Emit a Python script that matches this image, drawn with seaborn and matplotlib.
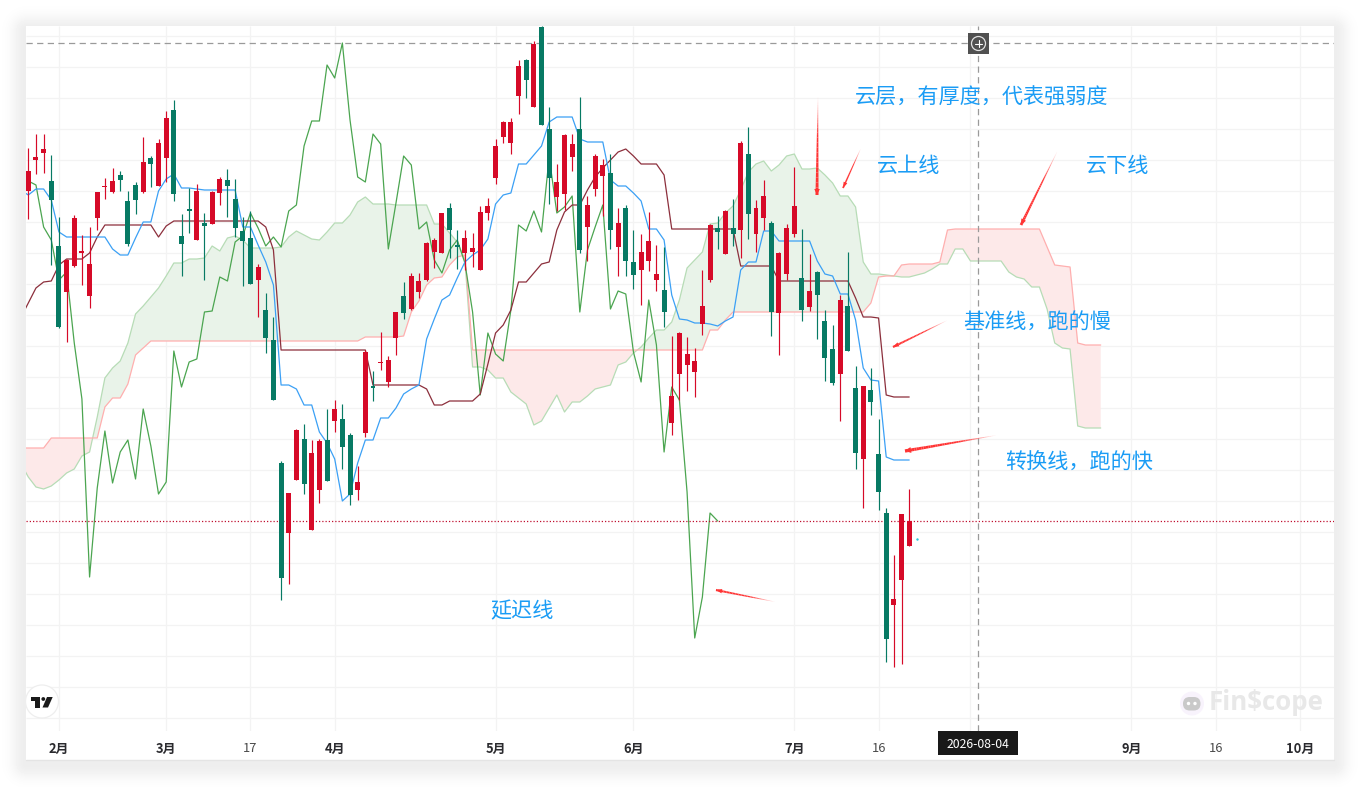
import numpy as np
import pandas as pd
import matplotlib
matplotlib.use("Agg")
import matplotlib.pyplot as plt
from matplotlib.patches import Rectangle, Circle, Polygon, FancyBboxPatch
from matplotlib.collections import LineCollection
import seaborn as sns

# ---------- data (vertical values are read as chart rows, smaller = higher price) ----------
wick_top = [148,134,134,155,217,259,215,235,227,192,178,168,171,191,182,137,156,139,111,100,
            214,188,184,213,191,177,169,179,217,211,264,293,317,461,493,429,424,440,439,409,
            400,404,433,466,350,371,332,356,312,282,273,273,242,238,213,203,230,230,233,206,
            198,139,121,118,60,59,41,26,107,164,134,134,97,196,154,159,154,208,205,230,
            234,212,245,247,336,332,337,348,270,224,216,210,199,141,127,200,180,221,252,224,
            167,229,254,271,310,325,295,252,366,386,368,419,508,555,514,489]
body_top = [171,157,149,181,246,260,218,251,264,192,186,181,175,201,185,162,158,143,118,110,
            236,209,191,223,192,179,180,199,231,238,267,310,340,463,493,430,439,453,441,440,
            409,419,435,482,352,386,362,360,312,296,276,281,243,240,213,208,245,238,248,212,
            206,146,122,122,66,60,44,27,129,182,135,144,129,205,156,165,173,223,208,262,
            252,241,274,290,396,333,354,361,306,225,228,211,228,143,154,208,196,223,253,228,
            206,278,291,272,321,349,300,306,388,386,390,454,513,599,514,521]
body_bot = [191,160,153,200,327,292,266,253,296,218,187,192,180,244,200,192,164,186,158,194,
            244,211,240,226,224,193,186,228,241,284,280,338,400,578,533,480,484,530,490,481,
            421,447,495,490,433,388,363,382,338,313,309,292,280,252,253,230,247,253,252,270,
            213,178,137,143,96,80,107,125,178,197,194,157,250,227,189,176,230,247,261,275,
            270,261,280,312,423,374,365,372,324,280,232,254,234,230,214,234,218,312,313,274,
            234,310,307,295,358,383,374,351,453,459,402,492,639,605,580,546]
wick_bot = [219,174,173,265,328,342,267,285,308,230,199,193,191,246,214,193,187,186,182,201,
            276,233,240,280,224,205,217,237,286,284,317,353,400,600,584,480,494,530,503,481,
            432,469,505,500,437,401,370,387,355,319,310,298,281,268,253,258,269,270,267,270,
            220,184,143,154,114,98,107,125,204,211,210,171,253,261,196,216,249,276,276,289,
            305,271,291,327,435,400,391,397,335,282,249,254,246,258,239,252,230,336,355,280,
            237,321,311,339,381,385,421,351,469,508,415,510,662,667,664,546]
direction = list("RRRGGRRRRR" "RRGGGRGRRG" "GGRGRRGGGG" "RGGGRRGRRG" "RGGRRGRRRG" "RRRRRGGRRR"
                 "RRRRRGRGGR" "RRGRRRGRGG" "RRRGRRRRRR" "GRGRGRRGRR" "RGRGGGRGGR" "GGGRRR")

# these series start one bar before the first visible candle (bar -1)
conversion = [190,
              195,189,189,200,232,237,237,237,237,237,237,249,255,255,238,222,222,191,179,174,
              188,188,189,190,190,190,190,190,227,227,245,262,285,385,385,389,405,405,432,443,
              459,501,494,463,440,440,418,418,408,394,389,385,339,319,300,295,278,262,255,250,
              239,204,195,193,164,164,155,146,122,117,117,117,139,142,142,142,180,186,186,193,
              201,229,229,240,295,319,320,323,323,324,326,321,317,270,262,262,231,231,241,241,
              241,241,241,261,274,276,294,294,320,368,380,381,457,460,460,460]
base_line = [318,
             303,288,282,281,265,259,259,259,253,237,225,225,225,225,225,225,225,237,226,221,
             221,221,221,221,221,221,221,221,221,221,221,227,250,350,350,350,350,350,350,350,
             350,350,350,350,350,385,385,385,385,385,385,385,389,405,405,401,401,401,401,394,
             364,333,325,310,282,282,273,264,262,230,212,205,205,190,177,168,160,152,149,156,
             164,164,164,175,229,229,229,229,229,229,229,229,229,266,266,266,266,266,281,281,
             281,281,281,281,281,281,281,281,298,317,317,318,395,397,397,397]
lagging = [181,185,227,240,280,272,343,399,577,488,431,483,452,440,479,409,446,494,482,351,
           387,362,359,312,311,277,281,242,236,213,228,246,237,247,211,205,146,121,121,65,
           78,43,120,177,182,134,144,249,203,156,165,229,222,260,273,250,240,263,312,395,
           333,354,361,310,225,231,211,232,157,213,207,196,312,250,227,205,309,291,294,352,
           382,300,345,452,387,400,492,638,597,513,521]
span_a = [463,
          477,487,489,486,480,473,469,456,452,417,378,368,361,343,314,306,297,288,276,263,
          263,259,259,258,246,251,238,236,240,248,248,248,248,247,237,231,235,239,240,232,
          223,223,215,202,197,204,204,204,205,205,205,205,205,224,224,233,242,260,367,367,
          370,378,378,392,398,404,425,421,408,395,412,402,402,396,389,387,385,365,362,353,
          347,338,330,330,322,300,268,260,252,224,223,213,206,190,172,164,161,171,165,156,
          154,169,169,168,175,183,196,196,207,262,274,274,275,276,277,277,275,273,269,264,
          264,249,249,261,261,261,261,261,272,277,279,287,287,309,343,348,349,426,428,428,428]
span_b = [448,
          448,448,448,438,438,438,438,438,438,438,407,398,398,384,355,348,341,341,341,341,
          341,341,341,341,341,341,341,341,341,341,341,341,341,341,341,341,341,341,341,341,
          341,341,341,341,337,337,337,337,337,336,312,301,285,278,277,265,257,255,350,350,
          350,350,350,350,350,350,350,350,350,350,350,350,350,350,350,350,350,350,350,350,
          350,350,350,350,350,350,350,350,350,330,330,320,312,312,312,312,312,312,312,312,
          312,312,312,312,312,312,312,312,312,312,303,277,276,276,265,264,264,264,264,262,
          230,229,229,229,229,229,229,229,229,229,229,229,229,247,265,266,267,343,345,345,345]
last_dot = [539]
last_price = [521]
cross_price = [43.5]
cross_bar = [124]
tick_bars = [4,18,29,40,61,79,100,111,123,144,155,166]
tick_labels = ["2月","3月","17","4月","5月","6月","7月","16","","9月","16","10月"]
grid_rows = [35.7,66.7,97.7,128.7,159.7,190.7,221.7,252.7,283.7,314.7,345.7,376.7,407.7,438.7,
             469.7,500.7,531.7,562.7,593.7,624.7,655.7,686.7,717.7]

# ---------- frames ----------
candles = pd.DataFrame({"bar": np.arange(len(wick_top)), "wt": wick_top, "bt": body_top,
                        "bb": body_bot, "wb": wick_bot, "dir": direction})
lines = pd.DataFrame({"bar": np.arange(len(conversion)) - 1, "conversion": conversion, "base": base_line})
lag = pd.DataFrame({"bar": np.arange(len(lagging)), "lag": lagging})
cloud = pd.DataFrame({"bar": np.arange(len(span_a)) - 1, "a": span_a, "b": span_b})

sns.set_theme(style="white")
plt.rcParams["font.family"] = ["Noto Sans CJK SC", "DejaVu Sans"]

W, H = 1360, 787
fig = plt.figure(figsize=(W/100, H/100), dpi=100, facecolor="white")

# background layer in pixels: card and soft shadow
bg = fig.add_axes([0, 0, 1, 1], zorder=0)
yy, xx = np.mgrid[0:H, 0:W] + 0.5
ddx = np.maximum(np.maximum(26 - xx, xx - 1334), 0)
ddy = np.maximum(np.maximum(30 - yy, yy - 764), 0)
dist = np.hypot(ddx, ddy)
shade = 1 - 0.07*np.exp(-(dist/14.0)**2)
bg.imshow(shade, cmap="gray", vmin=0, vmax=1, extent=(0, W, H, 0), aspect="auto", interpolation="bilinear")
bg.set_xlim(0, W); bg.set_ylim(H, 0); bg.axis("off")
bg.add_patch(Rectangle((26, 26), 1308, 734, fc="white", ec="none"))
bg.plot([26, 1334], [759.6, 759.6], color="#e4e4e4", lw=1)

# main pane
x0 = 28.3; dx = 7.66
ax = fig.add_axes([26/W, 1-731/H, 1308/W, 705/H], zorder=1)
ax.patch.set_alpha(0)
ax.set_xlim((26-x0)/dx, (1334-x0)/dx)
ax.set_ylim(731, 26)
for s in ax.spines.values():
    s.set_visible(False)

grid_c = "#f3f3f3"
ax.vlines(tick_bars, 26, 731, color=grid_c, lw=0.9, zorder=0.5)
ax.hlines(grid_rows, *ax.get_xlim(), color=grid_c, lw=0.9, zorder=0.5)

# cloud
a = cloud["a"].to_numpy(float); b = cloud["b"].to_numpy(float); bars = cloud["bar"].to_numpy(float)
ax.fill_between(bars, a, b, where=a <= b, interpolate=True, color="#e9f3e9", lw=0, zorder=1)
ax.fill_between(bars, a, b, where=a >= b, interpolate=True, color="#fde9e9", lw=0, zorder=1)
sns.lineplot(data=cloud, x="bar", y="a", color="#b7dcb6", linewidth=0.9, ax=ax, estimator=None, sort=False, zorder=2)
sns.lineplot(data=cloud, x="bar", y="b", color="#ffafaf", linewidth=0.9, ax=ax, estimator=None, sort=False, zorder=2)

# indicator lines
sns.lineplot(data=lag, x="bar", y="lag", color="#4ba550", linewidth=0.9, ax=ax, estimator=None, sort=False, zorder=3)
sns.lineplot(data=lines, x="bar", y="base", color="#8c2f3c", linewidth=0.9, ax=ax, estimator=None, sort=False, zorder=3)
sns.lineplot(data=lines, x="bar", y="conversion", color="#3ba0f5", linewidth=0.9, ax=ax, estimator=None, sort=False, zorder=3)

# price and crosshair lines
ax.axhline(last_price[0], color="#c01030", lw=0.9, ls=(0, (1, 1.6)), zorder=3.5)
ax.axhline(cross_price[0], color="#9a9a9a", lw=0.9, ls=(0, (5, 3.5)), zorder=3.5)
ax.axvline(cross_bar[0], color="#9a9a9a", lw=0.9, ls=(0, (5, 3.5)), zorder=3.5)

# candles
col = {"R": "#d60a28", "G": "#077a64"}
colours = candles["dir"].map(col)
ax.vlines(candles["bar"], candles["wt"], candles["wb"], colors=colours, lw=0.85, zorder=4)
ax.bar(candles["bar"], candles["bb"]-candles["bt"], bottom=candles["bt"], width=0.65,
       color=colours, linewidth=0, zorder=4.5)
ax.scatter([len(wick_top)], last_dot, s=3, color="#26c6da", linewidths=0, zorder=5)

# axis
ax.set_xlabel(""); ax.set_ylabel("")
ax.set_yticks([])
ax.set_xticks(tick_bars)
ax.set_xticklabels(tick_labels)
ax.tick_params(axis="x", length=0, pad=8, labelsize=9.3, colors="#2a2a2e")
for lab in ax.get_xticklabels():
    if "月" in lab.get_text():
        lab.set_fontweight("bold")
    else:
        lab.set_color("#4a4a4a")

# overlay in pixels
ov = fig.add_axes([0, 0, 1, 1], zorder=2)
ov.patch.set_alpha(0)
ov.set_xlim(0, W); ov.set_ylim(H, 0); ov.axis("off")

blue = "#1a9cf5"
notes = [("云层，有厚度，代表强弱度", 855, 98), ("云上线", 877, 166), ("云下线", 1086, 166),
         ("基准线，跑的慢", 963, 323), ("转换线，跑的快", 1005, 463), ("延迟线", 490, 611)]
for t, x, y in notes:
    ov.text(x, y, t, color=blue, fontsize=15.2, ha="left", va="center", zorder=6)

def arrow(x1, y1, x2, y2, wmax=1.6, head=2.6):
    n = 40
    xs = np.linspace(x1, x2, n+1); ys = np.linspace(y1, y2, n+1)
    segs = [[(xs[i], ys[i]), (xs[i+1], ys[i+1])] for i in range(n)]
    t = np.linspace(0, 1, n)
    rgba = np.zeros((n, 4)); rgba[:, 0] = 1; rgba[:, 1] = 0.2; rgba[:, 2] = 0.2
    rgba[:, 3] = np.clip(t*2.4, 0, 1)
    ov.add_collection(LineCollection(segs, colors=rgba, linewidths=0.3+t*wmax, zorder=6))
    L = np.hypot(x2-x1, y2-y1); ux, uy = (x2-x1)/L, (y2-y1)/L
    px, py = -uy, ux
    ov.add_patch(Polygon([(x2, y2), (x2-6*ux+head*px, y2-6*uy+head*py), (x2-6*ux-head*px, y2-6*uy-head*py)],
                         fc="#ff3333", ec="none", zorder=6))

arrow(818, 95, 817, 195, 1.9, 2.8)
arrow(861, 148, 843, 188, 1.0, 2.0)
arrow(1058, 150, 1021, 225, 1.7, 2.6)
arrow(948, 320, 893, 347, 1.3, 2.2)
arrow(998, 435, 905, 451, 2.1, 3.0)
arrow(776, 602, 716, 590, 1.3, 2.2)

# crosshair button and date tag
ov.add_patch(Rectangle((968, 33), 21, 21, fc="#505050", ec="none", zorder=6))
ov.add_patch(Circle((978.5, 43.5), 7, fc="none", ec="#e0e0e0", lw=0.9, zorder=7))
ov.plot([975, 982], [43.5, 43.5], color="white", lw=0.8, zorder=7)
ov.plot([978.5, 978.5], [40, 47], color="white", lw=0.8, zorder=7)
ov.add_patch(Rectangle((938, 731), 80, 24, fc="#191919", ec="none", zorder=6))
ov.text(978, 744.5, "2026-08-04", color="white", fontsize=8.8, fontweight="medium",
        ha="center", va="center", zorder=7)

# TradingView badge
ov.add_patch(Circle((42, 701.5), 16.5, fc="white", ec="#eeeeee", lw=0.9, zorder=6))
ov.add_patch(Polygon([(31, 697), (40, 697), (40, 707.5), (35, 707.5), (35, 700.5), (31, 700.5)],
                     fc="#1a1a1a", ec="none", zorder=7))
ov.add_patch(Circle((43.3, 699), 1.9, fc="#1a1a1a", ec="none", zorder=7))
ov.add_patch(Polygon([(47, 697), (52.7, 697), (48, 707.5), (42.5, 707.5)], fc="#1a1a1a", ec="none", zorder=7))

# watermark
ov.add_patch(Circle((1192, 703.5), 12, fc="#f6eefc", ec="none", alpha=0.7, zorder=6))
ov.add_patch(FancyBboxPatch((1183, 697), 17.5, 13.5, boxstyle="round,pad=0,rounding_size=6.7",
                            fc="#c9c9c9", ec="none", zorder=7))
ov.add_patch(Circle((1188.5, 703.5), 1.7, fc="white", ec="none", zorder=8))
ov.add_patch(Circle((1195, 703.5), 1.7, fc="white", ec="none", zorder=8))
ov.text(1209, 703, "Fin$cope", color="#e8e8e8", fontsize=18.6, fontweight="bold", family="Open Sans",
        ha="left", va="center", zorder=7)

fig.savefig("out.png", dpi=100)
